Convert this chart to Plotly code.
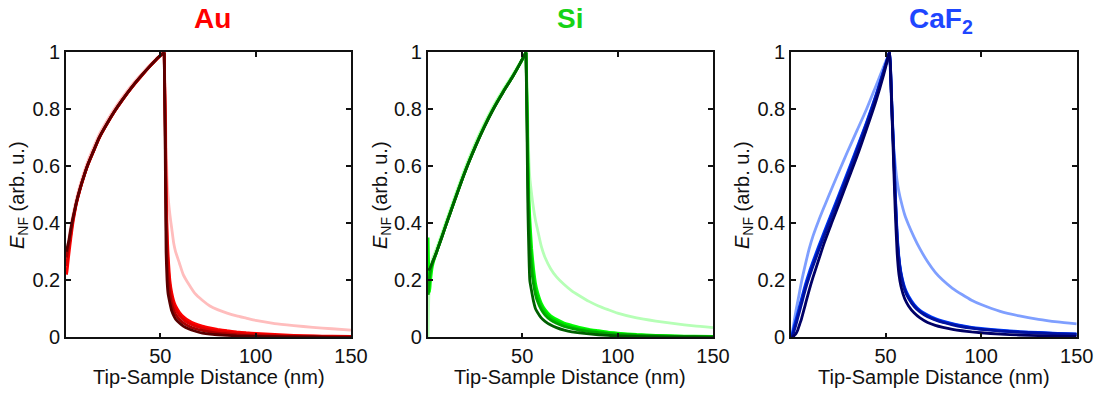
import plotly.graph_objects as go

W, H = 1099, 396

# shared distance grid (nm); index 20 is the peak (52 nm)
dist = [0.7, 1, 1.5, 2, 3, 4, 5, 6, 8, 10, 12, 15, 18, 22, 26, 30, 35, 40, 45, 49, 52,
        52.5, 53, 53.5, 54, 55, 56, 57, 58, 60, 62, 65, 68, 72, 76, 80, 85, 90, 95, 100,
        110, 120, 130, 140, 150]
PEAK = 20

# ---- Au ----
au_1 = [0.26, 0.28, 0.315, 0.345, 0.39, 0.425, 0.457, 0.487, 0.537, 0.58, 0.619, 0.667, 0.713, 0.76, 0.803, 0.841, 0.885, 0.923, 0.959, 0.985, 1.0,
        0.85, 0.68, 0.56, 0.50, 0.43, 0.38, 0.33, 0.30, 0.26, 0.22, 0.185, 0.155, 0.13, 0.11, 0.097, 0.085, 0.075, 0.067, 0.059, 0.048, 0.041, 0.035, 0.03, 0.025]
au_2 = [0.22, 0.23, 0.26, 0.29, 0.345, 0.395, 0.435, 0.47, 0.522, 0.566, 0.605, 0.653, 0.7, 0.748, 0.792, 0.831, 0.876, 0.916, 0.954, 0.982, 1.0,
        0.8, 0.55, 0.38, 0.3, 0.2, 0.155, 0.128, 0.11, 0.088, 0.073, 0.058, 0.048, 0.039, 0.033, 0.028, 0.023, 0.019, 0.016, 0.014, 0.01, 0.007, 0.005, 0.004, 0.003]
au_3 = [0.25, 0.26, 0.29, 0.315, 0.36, 0.405, 0.44, 0.472, 0.523, 0.567, 0.606, 0.654, 0.701, 0.749, 0.793, 0.832, 0.877, 0.917, 0.954, 0.982, 1.0,
        0.78, 0.5, 0.34, 0.26, 0.18, 0.138, 0.113, 0.097, 0.077, 0.063, 0.049, 0.04, 0.032, 0.026, 0.022, 0.018, 0.015, 0.012, 0.01, 0.007, 0.005, 0.004, 0.003, 0.002]
au_4 = [0.28, 0.29, 0.31, 0.33, 0.372, 0.41, 0.443, 0.474, 0.524, 0.567, 0.606, 0.654, 0.701, 0.749, 0.793, 0.832, 0.877, 0.917, 0.955, 0.983, 1.0,
        0.75, 0.42, 0.28, 0.21, 0.15, 0.115, 0.094, 0.08, 0.063, 0.051, 0.039, 0.031, 0.024, 0.019, 0.015, 0.012, 0.009, 0.007, 0.006, 0.004, 0.003, 0.002, 0.001, 0.001]
au_5 = [0.30, 0.31, 0.325, 0.34, 0.38, 0.415, 0.445, 0.475, 0.525, 0.568, 0.607, 0.655, 0.702, 0.75, 0.794, 0.833, 0.878, 0.918, 0.955, 0.983, 1.0,
        0.7, 0.3, 0.2, 0.155, 0.12, 0.092, 0.076, 0.064, 0.05, 0.039, 0.029, 0.022, 0.015, 0.011, 0.009, 0.007, 0.005, 0.004, 0.003, 0.002, 0.001, 0.001, 0, 0]

# ---- Si ----
si_1 = [0.0, 0.12, 0.2, 0.24, 0.275, 0.293, 0.31, 0.328, 0.366, 0.405, 0.443, 0.5, 0.556, 0.626, 0.69, 0.748, 0.813, 0.869, 0.921, 0.965, 1.0,
        0.9, 0.75, 0.63, 0.56, 0.5, 0.45, 0.41, 0.38, 0.32, 0.28, 0.24, 0.212, 0.185, 0.163, 0.146, 0.126, 0.11, 0.097, 0.085, 0.068, 0.057, 0.048, 0.04, 0.034]
si_2 = [0.35, 0.25, 0.16, 0.2, 0.25, 0.275, 0.295, 0.316, 0.355, 0.394, 0.432, 0.489, 0.545, 0.615, 0.679, 0.738, 0.804, 0.862, 0.915, 0.962, 1.0,
        0.85, 0.65, 0.5, 0.42, 0.31, 0.24, 0.19, 0.16, 0.12, 0.097, 0.075, 0.063, 0.05, 0.042, 0.035, 0.028, 0.023, 0.018, 0.015, 0.01, 0.007, 0.005, 0.004, 0.003]
si_3 = [0.15, 0.18, 0.22, 0.24, 0.262, 0.279, 0.297, 0.316, 0.354, 0.393, 0.431, 0.488, 0.544, 0.614, 0.678, 0.737, 0.803, 0.861, 0.915, 0.962, 1.0,
        0.82, 0.6, 0.45, 0.37, 0.27, 0.21, 0.17, 0.145, 0.11, 0.088, 0.068, 0.056, 0.044, 0.036, 0.03, 0.024, 0.019, 0.015, 0.012, 0.008, 0.006, 0.004, 0.003, 0.002]
si_4 = [0.15, 0.17, 0.21, 0.235, 0.26, 0.278, 0.296, 0.315, 0.353, 0.392, 0.43, 0.487, 0.543, 0.613, 0.677, 0.736, 0.802, 0.86, 0.914, 0.962, 1.0,
        0.8, 0.55, 0.4, 0.32, 0.235, 0.185, 0.15, 0.127, 0.097, 0.078, 0.06, 0.049, 0.038, 0.031, 0.025, 0.02, 0.016, 0.013, 0.01, 0.007, 0.005, 0.003, 0.002, 0.002]
si_5 = [0.235, 0.237, 0.24, 0.247, 0.263, 0.28, 0.297, 0.315, 0.353, 0.392, 0.43, 0.487, 0.543, 0.613, 0.677, 0.736, 0.802, 0.86, 0.914, 0.962, 1.0,
        0.75, 0.45, 0.3, 0.2, 0.16, 0.125, 0.1, 0.088, 0.068, 0.056, 0.043, 0.034, 0.025, 0.019, 0.016, 0.012, 0.009, 0.007, 0.005, 0.003, 0.002, 0.001, 0.001, 0]

# ---- CaF2 ----
caf_1 = [0, 0.01, 0.03, 0.05, 0.09, 0.125, 0.16, 0.195, 0.255, 0.31, 0.355, 0.41, 0.46, 0.525, 0.588, 0.65, 0.725, 0.8, 0.883, 0.95, 1.0,
         0.93, 0.84, 0.76, 0.69, 0.61, 0.55, 0.51, 0.48, 0.43, 0.395, 0.35, 0.31, 0.265, 0.228, 0.2, 0.172, 0.15, 0.13, 0.115, 0.091, 0.075, 0.063, 0.054, 0.047]
caf_2 = [0, 0.008, 0.02, 0.035, 0.06, 0.085, 0.11, 0.135, 0.185, 0.228, 0.266, 0.32, 0.372, 0.44, 0.508, 0.577, 0.665, 0.754, 0.851, 0.936, 1.0,
         0.96, 0.87, 0.78, 0.7, 0.52, 0.37, 0.28, 0.23, 0.175, 0.145, 0.115, 0.095, 0.078, 0.066, 0.057, 0.048, 0.041, 0.035, 0.031, 0.025, 0.02, 0.017, 0.014, 0.012]
caf_3 = [0, 0.005, 0.015, 0.028, 0.052, 0.077, 0.102, 0.127, 0.177, 0.22, 0.259, 0.313, 0.366, 0.434, 0.502, 0.571, 0.66, 0.75, 0.848, 0.934, 1.0,
         0.96, 0.86, 0.77, 0.69, 0.51, 0.36, 0.275, 0.225, 0.17, 0.14, 0.111, 0.092, 0.075, 0.063, 0.054, 0.046, 0.039, 0.033, 0.029, 0.023, 0.019, 0.016, 0.013, 0.011]
caf_4 = [0, 0.003, 0.01, 0.02, 0.042, 0.067, 0.092, 0.117, 0.167, 0.211, 0.25, 0.305, 0.358, 0.427, 0.496, 0.565, 0.654, 0.745, 0.844, 0.932, 1.0,
         0.955, 0.86, 0.765, 0.68, 0.5, 0.35, 0.27, 0.22, 0.166, 0.137, 0.108, 0.089, 0.072, 0.061, 0.052, 0.044, 0.037, 0.032, 0.028, 0.022, 0.018, 0.015, 0.012, 0.01]
caf_5 = [0, 0, 0.002, 0.005, 0.012, 0.025, 0.045, 0.065, 0.115, 0.165, 0.21, 0.272, 0.333, 0.405, 0.475, 0.546, 0.634, 0.73, 0.83, 0.922, 1.0,
         0.95, 0.85, 0.75, 0.65, 0.45, 0.3, 0.22, 0.18, 0.135, 0.11, 0.085, 0.068, 0.052, 0.042, 0.035, 0.028, 0.023, 0.019, 0.016, 0.011, 0.008, 0.006, 0.004, 0.003]

panels = [
    ("Au", "#ff0000", [au_1, au_2, au_3, au_4, au_5],
     ["#ffbdbd", "#ff0000", "#e00000", "#a80000", "#5a0000"]),
    ("Si", "#16d316", [si_1, si_2, si_3, si_4, si_5],
     ["#b6ffb6", "#00ff00", "#00d400", "#00a600", "#006000"]),
    ("CaF<sub>2</sub>", "#1e46ff", [caf_1, caf_2, caf_3, caf_4, caf_5],
     ["#7f9fff", "#0040ff", "#0028d4", "#0012a0", "#000066"]),
]

x_ticks = [50, 100, 150]
y_ticks = [0, 0.2, 0.4, 0.6, 0.8, 1]

# plot-area pixel boxes
boxes = [(66, 351), (427.7, 713), (791, 1076.7)]
top_px, bot_px = 52.3, 337.3
title_x = [212, 570, 941]
ytitle_x = [18, 381, 743]

FONT = "Liberation Sans, Arial, Helvetica, sans-serif"
fig = go.Figure()
ann = []
for i, (name, tcol, series, cols) in enumerate(panels):
    ax = "" if i == 0 else str(i + 1)
    for s, c in zip(series, cols):
        # approach branch and retract branch share the peak point
        for xs, ys, sm in ((dist[:PEAK + 1], s[:PEAK + 1], 0.8),
                           (dist[PEAK:], s[PEAK:], 0.5)):
            fig.add_trace(go.Scatter(x=xs, y=ys, mode="lines",
                                     line=dict(color=c, width=2.8, shape="spline", smoothing=sm),
                                     xaxis="x" + ax, yaxis="y" + ax, showlegend=False,
                                     hoverinfo="skip"))
    l, r = boxes[i]
    common = dict(showgrid=False, zeroline=False, showline=True, linecolor="#111",
                  linewidth=1.6, mirror="allticks", ticks="inside", ticklen=5,
                  tickwidth=1.5, tickcolor="#111",
                  tickfont=dict(family=FONT, size=20, color="#111"))
    fig.layout["xaxis" + ax] = dict(domain=[l / W, r / W], range=[0.5, 150],
                                     tickvals=x_ticks, anchor="y" + ax, **common)
    fig.layout["yaxis" + ax] = dict(domain=[1 - bot_px / H, 1 - top_px / H], range=[0, 1],
                                     tickvals=y_ticks, anchor="x" + ax, **common)
    ann.append(dict(text="<b>%s</b>" % name, x=title_x[i] / W, y=1 - 1 / H,
                    xref="paper", yref="paper", showarrow=False,
                    font=dict(family=FONT, size=28, color=tcol),
                    xanchor="center", yanchor="top"))
    ann.append(dict(text="Tip-Sample Distance (nm)", x=(l + r) / 2 / W, y=1 - 377 / H,
                    xref="paper", yref="paper", showarrow=False,
                    font=dict(family=FONT, size=20, color="#111"),
                    xanchor="center", yanchor="middle"))
    ann.append(dict(text="<i>E</i><sub>NF</sub> (arb. u.)", x=ytitle_x[i] / W,
                    y=1 - 195 / H, xref="paper", yref="paper", showarrow=False,
                    textangle=-90, font=dict(family=FONT, size=20, color="#111"),
                    xanchor="center", yanchor="middle"))

fig.update_layout(width=W, height=H, margin=dict(l=0, r=0, t=0, b=0, autoexpand=False),
                  paper_bgcolor="white", plot_bgcolor="white", annotations=ann,
                  showlegend=False)
fig.write_html("out.html")
